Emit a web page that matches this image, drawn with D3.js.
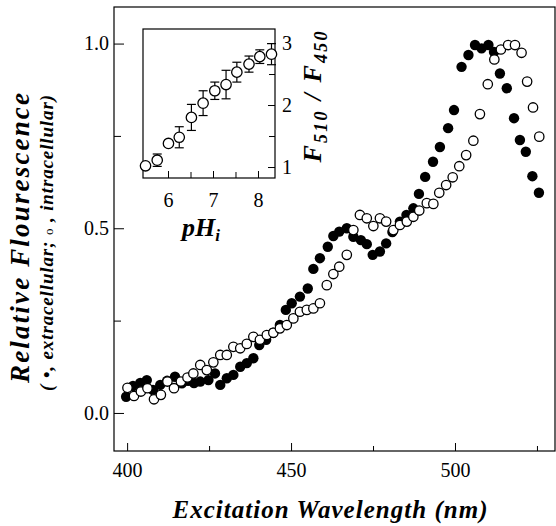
<!DOCTYPE html>
<html>
<head>
<meta charset="utf-8">
<script src="https://cdn.jsdelivr.net/npm/d3@7"></script>
<style>
  body { margin: 0; background: #fff; }
</style>
</head>
<body>
<svg id="chart" width="556" height="526"></svg>
<script>
'use strict';

// extracellular (filled circles)
const extWl = [399.7, 401.8, 404.0, 406.0, 407.9, 410.1, 412.2, 414.6, 416.7, 418.6, 420.4, 422.3, 424.8,
  426.8, 428.4, 430.4, 432.4, 434.5, 436.5, 438.5, 440.3, 442.4, 444.5, 446.6, 448.4, 450.2, 452.7, 455.1,
  456.8, 458.8, 461.2, 462.9, 464.7, 467.0, 469.0, 471.3, 473.1, 474.9, 477.1, 479.0, 480.9, 483.2, 485.2,
  487.3, 489.0, 490.9, 493.3, 495.4, 497.9, 499.7, 502.0, 504.1, 506.1, 508.1, 510.2, 511.9, 513.7, 515.8,
  518.0, 519.8, 521.6, 523.6, 525.6];
const extVal = [0.044, 0.073, 0.081, 0.089, 0.062, 0.076, 0.087, 0.098, 0.080, 0.087, 0.081, 0.085, 0.089,
  0.107, 0.076, 0.094, 0.103, 0.125, 0.135, 0.148, 0.184, 0.198, 0.217, 0.238, 0.279, 0.297, 0.315, 0.337,
  0.390, 0.419, 0.450, 0.479, 0.491, 0.500, 0.477, 0.468, 0.457, 0.428, 0.437, 0.459, 0.490, 0.518, 0.536,
  0.554, 0.593, 0.639, 0.680, 0.720, 0.771, 0.820, 0.937, 0.969, 0.996, 0.987, 0.996, 0.977, 0.919, 0.879,
  0.798, 0.739, 0.707, 0.641, 0.596];

// intracellular (open circles)
const intWl = [400.1, 402.1, 404.2, 406.2, 408.2, 410.3, 412.3, 414.3, 416.4, 418.4, 420.2, 422.3, 424.3,
  426.3, 428.4, 430.4, 432.4, 434.5, 436.5, 438.5, 440.5, 442.6, 444.6, 446.6, 448.7, 450.7, 452.7, 454.8,
  456.8, 458.8, 460.9, 462.9, 464.7, 467.0, 469.0, 471.0, 473.1, 475.1, 477.1, 479.0, 481.2, 483.2, 485.3,
  487.3, 489.1, 491.4, 493.4, 495.2, 497.3, 499.3, 501.3, 503.4, 505.6, 507.6, 510.0, 512.0, 514.0, 516.2,
  518.3, 520.3, 522.0, 523.8, 525.7];
const intVal = [0.068, 0.046, 0.058, 0.067, 0.037, 0.049, 0.085, 0.067, 0.085, 0.096, 0.107, 0.130, 0.116,
  0.137, 0.157, 0.157, 0.179, 0.175, 0.187, 0.206, 0.198, 0.211, 0.217, 0.229, 0.238, 0.256, 0.274, 0.279,
  0.283, 0.297, 0.346, 0.376, 0.396, 0.428, 0.495, 0.536, 0.527, 0.506, 0.527, 0.518, 0.495, 0.509, 0.518,
  0.531, 0.548, 0.568, 0.566, 0.596, 0.617, 0.638, 0.668, 0.698, 0.737, 0.809, 0.890, 0.957, 0.984, 0.996,
  0.996, 0.975, 0.897, 0.827, 0.748];

// inset: F510/F450 vs pHi
const insetPh = [5.50, 5.76, 6.01, 6.25, 6.52, 6.78, 7.04, 7.29, 7.53, 7.80, 8.04, 8.30];
const insetRatio = [1.02, 1.11, 1.38, 1.48, 1.80, 2.03, 2.23, 2.33, 2.53, 2.66, 2.78, 2.82];
const insetErr = [0.03, 0.10, 0.04, 0.17, 0.21, 0.20, 0.14, 0.23, 0.16, 0.13, 0.11, 0.17];

const xTicks = [400, 450, 500];
const xMinorTicks = [425, 475, 525];
const yTicks = [0, 0.5, 1];
const yMinorTicks = [0.25, 0.75];
const insetXTicks = [6, 7, 8];
const insetXMinorTicks = [6.5, 7.5];
const insetYTicks = [1, 2, 3];
const insetYMinorTicks = [1.5, 2.5];

const serif = '\'Liberation Serif\'';
const svg = d3.select('#chart');

// main plot frame
const mLeft = 114, mRight = 555, mTop = 7, mBottom = 451;
const x = d3.scaleLinear().domain([396, 530.5]).range([mLeft, mRight]);
const y = d3.scaleLinear().domain([-0.103, 1.099]).range([mBottom, mTop]);

const tickFont = g => {
  g.attr('font-family', null);
  g.selectAll('text')
    .attr('font-size', 20)
    .style('font-family', serif)
    .attr('fill', '#000');
};

svg.append('g')
  .attr('transform', `translate(0,${mBottom})`)
  .call(d3.axisBottom(x).tickValues(xTicks).tickSize(-8).tickPadding(12).tickFormat(d3.format('d')))
  .call(g => g.select('.domain').remove())
  .call(tickFont);
svg.append('g')
  .attr('transform', `translate(0,${mBottom})`)
  .call(d3.axisBottom(x).tickValues(xMinorTicks).tickSize(-5).tickFormat(''))
  .call(g => g.select('.domain').remove());

svg.append('g')
  .attr('transform', `translate(${mLeft},0)`)
  .call(d3.axisLeft(y).tickValues(yTicks).tickSize(-10).tickPadding(5).tickFormat(d3.format('.1f')))
  .call(g => g.select('.domain').remove())
  .call(tickFont);
svg.append('g')
  .attr('transform', `translate(${mLeft},0)`)
  .call(d3.axisLeft(y).tickValues(yMinorTicks).tickSize(-7).tickFormat(''))
  .call(g => g.select('.domain').remove());

svg.append('rect')
  .attr('x', mLeft).attr('y', mTop)
  .attr('width', mRight - mLeft).attr('height', mBottom - mTop)
  .attr('fill', 'none').attr('stroke', '#000').attr('stroke-width', 1.2);

// data
const extData = d3.zip(extWl, extVal);
const intData = d3.zip(intWl, intVal);

svg.append('g')
  .selectAll('circle')
  .data(extData)
  .enter().append('circle')
  .attr('cx', d => x(d[0]))
  .attr('cy', d => y(d[1]))
  .attr('r', 5.2)
  .attr('fill', '#000');

svg.append('g')
  .selectAll('circle')
  .data(intData)
  .enter().append('circle')
  .attr('cx', d => x(d[0]))
  .attr('cy', d => y(d[1]))
  .attr('r', 4.7)
  .attr('fill', '#fff')
  .attr('stroke', '#000')
  .attr('stroke-width', 1.3);

// titles
const boldItalic = sel => sel
  .style('font-family', serif)
  .attr('font-weight', 'bold')
  .attr('font-style', 'italic');

svg.append('text')
  .attr('x', 330).attr('y', 518)
  .attr('text-anchor', 'middle')
  .attr('font-size', 25)
  .attr('textLength', 315)
  .call(boldItalic)
  .text('Excitation Wavelength (nm)');

svg.append('text')
  .attr('transform', 'translate(29,238) rotate(-90)')
  .attr('text-anchor', 'middle')
  .attr('font-size', 27)
  .attr('textLength', 290)
  .call(boldItalic)
  .text('Relative Flourescence');

const sub = svg.append('text')
  .attr('transform', 'translate(53,243) rotate(-90)')
  .attr('text-anchor', 'middle')
  .attr('font-size', 19)
  .attr('textLength', 296)
  .call(boldItalic);
sub.append('tspan').text('( •, extracellular; ');
sub.append('tspan').attr('font-size', 13).attr('font-style', 'normal').attr('font-weight', 'normal').text('o');
sub.append('tspan').text(' , intracellular)');

// inset
const il = 143, ir = 275, it = 29, ib = 178;
const ix = d3.scaleLinear().domain([5.444, 8.378]).range([il, ir]);
const iy = d3.scaleLinear().domain([0.823, 3.226]).range([ib, it]);

const inset = svg.append('g');

inset.append('rect')
  .attr('x', il).attr('y', it)
  .attr('width', ir - il).attr('height', ib - it)
  .attr('fill', '#fff').attr('stroke', '#000').attr('stroke-width', 1.2);

inset.append('g')
  .attr('transform', `translate(0,${ib})`)
  .call(d3.axisBottom(ix).tickValues(insetXTicks).tickSize(-7).tickPadding(15).tickFormat(d3.format('d')))
  .call(g => g.select('.domain').remove())
  .call(tickFont);
inset.append('g')
  .attr('transform', `translate(0,${ib})`)
  .call(d3.axisBottom(ix).tickValues(insetXMinorTicks).tickSize(-6).tickFormat(''))
  .call(g => g.select('.domain').remove());

inset.append('g')
  .attr('transform', `translate(${ir},0)`)
  .call(d3.axisRight(iy).tickValues(insetYTicks).tickSize(-7).tickPadding(7).tickFormat(d3.format('d')))
  .call(g => g.select('.domain').remove())
  .call(tickFont);
inset.append('g')
  .attr('transform', `translate(${ir},0)`)
  .call(d3.axisRight(iy).tickValues(insetYMinorTicks).tickSize(-6).tickFormat(''))
  .call(g => g.select('.domain').remove());

const insetData = d3.zip(insetPh, insetRatio, insetErr);
const bars = inset.append('g')
  .attr('stroke', '#000').attr('stroke-width', 1.2)
  .selectAll('g')
  .data(insetData)
  .enter().append('g');
bars.append('line')
  .attr('x1', d => ix(d[0])).attr('x2', d => ix(d[0]))
  .attr('y1', d => iy(d[1] - d[2])).attr('y2', d => iy(d[1] + d[2]));
bars.append('line')
  .attr('x1', d => ix(d[0]) - 4.5).attr('x2', d => ix(d[0]) + 4.5)
  .attr('y1', d => iy(d[1] - d[2])).attr('y2', d => iy(d[1] - d[2]));
bars.append('line')
  .attr('x1', d => ix(d[0]) - 4.5).attr('x2', d => ix(d[0]) + 4.5)
  .attr('y1', d => iy(d[1] + d[2])).attr('y2', d => iy(d[1] + d[2]));

inset.append('g')
  .selectAll('circle')
  .data(insetData)
  .enter().append('circle')
  .attr('cx', d => ix(d[0]))
  .attr('cy', d => iy(d[1]))
  .attr('r', 5.2)
  .attr('fill', '#fff')
  .attr('stroke', '#000')
  .attr('stroke-width', 1.3);

const ph = svg.append('text')
  .attr('x', 182).attr('y', 236)
  .attr('font-size', 26)
  .call(boldItalic);
ph.append('tspan').text('pH');
ph.append('tspan').attr('font-size', 17).attr('dy', 5).text('i');

const ratio = svg.append('text')
  .attr('transform', 'translate(321,97) rotate(-90)')
  .attr('text-anchor', 'middle')
  .attr('font-size', 26)
  .attr('textLength', 131)
  .call(boldItalic);
ratio.append('tspan').text('F');
ratio.append('tspan').attr('font-size', 18).attr('dy', 6).text('510');
ratio.append('tspan').attr('dy', -6).text(' / F');
ratio.append('tspan').attr('font-size', 18).attr('dy', 6).text('450');
</script>
</body>
</html>
